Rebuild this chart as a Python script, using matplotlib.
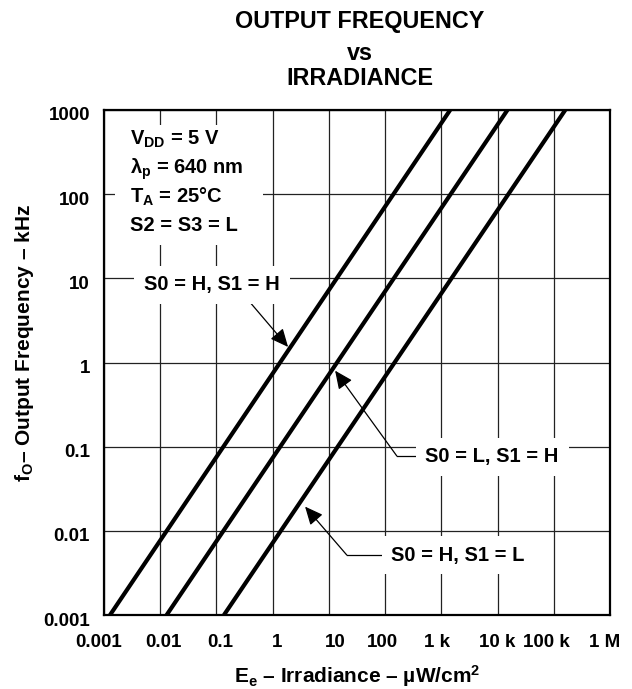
import matplotlib
matplotlib.use("Agg")
import matplotlib.pyplot as plt
import matplotlib.transforms as mtransforms
from matplotlib.patches import Rectangle
from matplotlib.ticker import FixedLocator, FixedFormatter, NullLocator

plt.rcParams['font.family'] = ['Liberation Sans', 'DejaVu Sans']
plt.rcParams['font.weight'] = 'bold'
plt.rcParams['mathtext.fontset'] = 'custom'
plt.rcParams['mathtext.rm'] = 'Liberation Sans:bold'
plt.rcParams['mathtext.it'] = 'Liberation Sans:bold'
plt.rcParams['mathtext.bf'] = 'Liberation Sans:bold'
plt.rcParams['mathtext.sf'] = 'Liberation Sans:bold'

# ---- data ----
freq_khz = [0.001, 1000]
irr_s0h_s1h = [0.00128, 1435]
irr_s0l_s1h = [0.013, 15000]
irr_s0h_s1l = [0.136, 160000]

x_ticks = [1e-3, 1e-2, 1e-1, 1, 10, 100, 1e3, 1e4, 1e5, 1e6]
x_tick_labels = ['0.001', '0.01', '0.1', '1', '10', '100', '1 k', '10 k', '100 k', '1 M']
y_ticks = [1e-3, 1e-2, 1e-1, 1, 10, 100, 1000]
y_tick_labels = ['0.001', '0.01', '0.1', '1', '10', '100', '1000']

W, H = 632, 689
fig = plt.figure(figsize=(W / 100, H / 100), dpi=100)
ax = fig.add_axes([104 / W, 1 - 615 / H, (610 - 104) / W, (615 - 110) / H])

ax.set_xscale('log')
ax.set_yscale('log')
ax.set_xlim(1e-3, 1e6)
ax.set_ylim(1e-3, 1e3)

ax.xaxis.set_major_locator(FixedLocator(x_ticks))
ax.xaxis.set_major_formatter(FixedFormatter(x_tick_labels))
ax.yaxis.set_major_locator(FixedLocator(y_ticks))
ax.yaxis.set_major_formatter(FixedFormatter(y_tick_labels))
ax.xaxis.set_minor_locator(NullLocator())
ax.yaxis.set_minor_locator(NullLocator())

ax.set_axisbelow(True)
ax.grid(True, which='major', color='#222222', linewidth=0.9)
ax.tick_params(axis='both', length=0, labelsize=13.5)
ax.tick_params(axis='x', pad=14)
ax.tick_params(axis='y', pad=10)
for s in ax.spines.values():
    s.set_linewidth(1.6)
    s.set_color('black')

# small manual shifts of tick labels as in the reference
x_shift_px = [-5, 3, 4, 4, 6, -3, -4, 0, -7, -5]
for lab, dx in zip(ax.get_xticklabels(), x_shift_px):
    lab.set_transform(lab.get_transform() + mtransforms.ScaledTranslation(dx / 100, 0, fig.dpi_scale_trans))
for lab in ax.get_yticklabels():
    lab.set_transform(lab.get_transform() + mtransforms.ScaledTranslation(0, -4 / 100, fig.dpi_scale_trans))

for irr in (irr_s0h_s1h, irr_s0l_s1h, irr_s0h_s1l):
    ax.plot(irr, freq_khz, color='black', linewidth=3.0, solid_capstyle='butt', zorder=3)

# condition box
ax.add_patch(Rectangle((0.0217, 0.733), 0.292, 0.237, transform=ax.transAxes,
                       facecolor='white', edgecolor='none', zorder=2))
cond = ['V$_\\mathrm{DD}$ = 5 V', 'λ$_\\mathrm{p}$ = 640 nm', 'T$_\\mathrm{A}$ = 25°C', 'S2 = S3 = L']
cond_y = [0.931, 0.873, 0.817, 0.760]
for t, yy in zip(cond, cond_y):
    ax.text(0.051, yy, t, transform=ax.transAxes, fontsize=14.5, fontweight='bold',
            ha='left', va='baseline', zorder=5)

bbox = dict(facecolor='white', edgecolor='none', pad=7)
arrow = dict(arrowstyle='-|>,head_length=1.1,head_width=0.5', color='black',
             linewidth=0.9, shrinkA=0, shrinkB=0, mutation_scale=10)

# S0 = H, S1 = H
ax.text(0.0835, 8.34, 'S0 = H, S1 = H', fontsize=14.5, fontweight='bold',
        ha='center', va='center', bbox=bbox, zorder=5)
ax.annotate('', xy=(1.88, 1.53), xytext=(0.365, 5.53), arrowprops=arrow, zorder=4)

# S0 = L, S1 = H
ax.text(8020, 0.0754, 'S0 = L, S1 = H', fontsize=14.5, fontweight='bold',
        ha='center', va='center', bbox=bbox, zorder=5)
ax.plot([161.5, 2000], [0.0775, 0.0775], color='black', linewidth=0.9, zorder=4)
ax.annotate('', xy=(12.9, 0.80), xytext=(161.5, 0.0775), arrowprops=arrow, zorder=4)

# S0 = H, S1 = L
ax.text(1990, 0.00516, 'S0 = H, S1 = L', fontsize=14.5, fontweight='bold',
        ha='center', va='center', bbox=bbox, zorder=5)
ax.plot([20.8, 500], [0.00516, 0.00516], color='black', linewidth=0.9, zorder=4)
ax.annotate('', xy=(3.77, 0.0194), xytext=(20.8, 0.00516), arrowprops=arrow, zorder=4)

# titles and axis labels
tx = 360 / W
fig.text(tx, 1 - 28.3 / H, 'OUTPUT FREQUENCY', ha='center', va='baseline', fontsize=16.8, fontweight='bold')
fig.text(tx, 1 - 60 / H, 'vs', ha='center', va='baseline', fontsize=16.8, fontweight='bold')
fig.text(tx, 1 - 85 / H, 'IRRADIANCE', ha='center', va='baseline', fontsize=16.8, fontweight='bold')

fig.text(357.5 / W, 1 - 683 / H, 'E$_\\mathrm{e}$ – Irradiance – µW/cm$^\\mathrm{2}$',
         ha='center', va='baseline', fontsize=15, fontweight='bold')
fig.text(25 / W, 1 - 343 / H, 'f$_\\mathrm{O}$– Output Frequency – kHz', rotation=90,
         ha='center', va='center', fontsize=15, fontweight='bold')

fig.savefig('out.png', dpi=100)
